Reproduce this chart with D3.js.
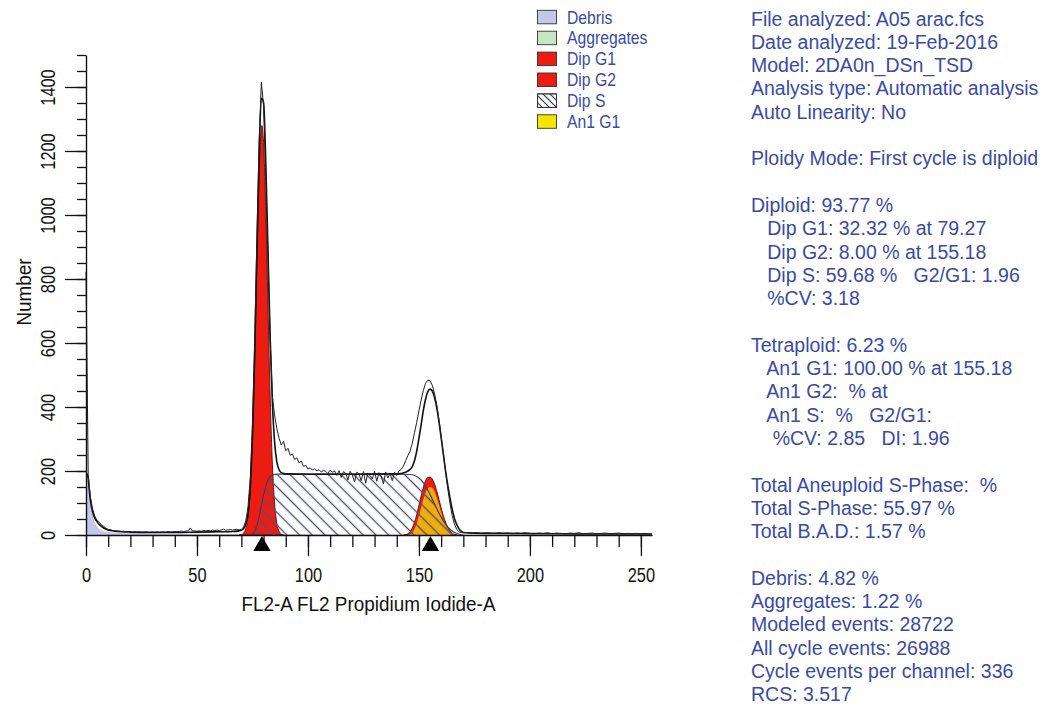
<!DOCTYPE html>
<html><head><meta charset="utf-8">
<script src="https://cdn.jsdelivr.net/npm/d3@7"></script>
<style>
body{margin:0;background:#fff;}
svg text{font-family:"Liberation Sans",Arial,Helvetica,sans-serif;}
</style></head><body>
<svg id="chart" width="1048" height="708"></svg>
<script>
// ---------- DATA ----------
// measured histogram: [channel, count]
const dataHist = [[0,822],[1,185],[2,118],[3,80],[4,58],[5,46],[6,40],[7,31],[8,27],[9,21],[10,17],[11,16],[12,14],[13,13],[14,12],[15,12],[16,11],[17,12],[18,10],[19,11],[20,10],[21,9],[22,10],[23,9],[24,10],[25,9],[26,9],[27,10],[28,9],[29,9],[30,10],[31,9],[32,10],[33,9],[34,10],[35,10],[36,9],[37,11],[38,10],[39,10],[40,11],[41,10],[42,11],[43,12],[44,11],[45,12],[46,13],[47,22],[48,12],[49,13],[50,12],[51,13],[52,12],[53,14],[54,13],[55,14],[56,13],[57,15],[58,14],[59,15],[60,14],[61,16],[62,18],[63,15],[64,16],[65,17],[66,15],[67,17],[68,18],[69,16],[70,17],[71,25],[72,44],[73,88],[74,178],[75,348],[76,612],[77,932],[78,1232],[79,1415],[80,1342],[81,1122],[82,862],[83,602],[84,432],[85,372],[86,332],[87,302],[88,281],[89,293],[90,263],[91,271],[92,249],[93,253],[94,236],[95,241],[96,226],[97,231],[98,214],[99,218],[100,206],[101,210],[102,203],[103,207],[104,200],[105,204],[106,197],[107,202],[108,199],[109,192],[110,203],[111,196],[112,200],[113,186],[114,201],[115,180],[116,198],[117,193],[118,172],[119,199],[120,187],[121,166],[122,196],[123,190],[124,170],[125,198],[126,162],[127,194],[128,185],[129,175],[130,199],[131,168],[132,195],[133,182],[134,160],[135,197],[136,178],[137,192],[138,170],[139,196],[140,186],[141,200],[142,205],[143,215],[144,232],[145,248],[146,262],[147,287],[148,320],[149,352],[150,388],[151,422],[152,452],[153,474],[154,484],[155,482],[156,468],[157,443],[158,408],[159,362],[160,308],[161,254],[162,198],[163,145],[164,98],[165,60],[166,34],[167,18],[168,10],[169,8],[170,7],[172,8],[174,6],[176,7],[178,5],[180,7],[182,6],[184,5],[186,7],[188,5],[190,6],[192,4],[194,6],[196,5],[198,7],[200,5],[202,4],[204,6],[206,5],[208,7],[210,4],[212,6],[214,5],[216,4],[218,6],[220,5],[222,7],[224,4],[226,5],[228,6],[230,4],[232,5],[234,6],[236,4],[238,5],[240,6],[242,4],[244,5],[246,4],[248,5],[250,4],[252,5],[254,3]];
// total model fit
const modelTotal = [[0.5,192],[1,178],[1.5,140],[2,108],[3,72],[4,52],[5,41],[6,33],[7,27],[8,22],[10,16],[13,12],[16,10],[20,9],[30,8],[40,8],[50,9],[60,10],[66,11],[69,13],[70,15],[71,20],[72,34],[73,68],[74,148],[75,312],[76,565],[77,885],[78,1185],[79,1365],[80,1352],[81,1163],[82,884],[83,611],[84,408],[85,288],[86,228],[87,204],[88,195],[90,191],[100,190],[120,190],[140,191],[144,196],[146,205],[147,214],[148,232],[149,262],[150,302],[151,345],[152,390],[153,425],[154,448],[155,456],[156,450],[157,430],[158,398],[159,355],[160,305],[161,252],[162,200],[163,155],[164,115],[165,80],[166,52],[167,33],[168,20],[169,12],[170,8],[175,6],[190,5],[210,4],[230,3],[255,3]];
// model components
const debrisFit = [[0,195],[0.5,190],[1,175],[1.5,138],[2,105],[2.5,80],[3,62],[3.5,48],[4,38],[5,26],[6,19],[7,15],[8,12],[10,9],[14,7],[20,6],[30,5],[40,4],[50,4],[60,3],[70,3],[80,2],[100,2],[140,1],[170,1],[200,0]];
const dipG1 = [[69,0],[70,1],[71,6],[72,20],[73,58],[74,143],[75,306],[76,551],[77,853],[78,1127],[79,1273],[79.27,1280],[80,1227],[81,1011],[82,712],[83,428],[84,220],[85,97],[86,36],[87,12],[88,3],[89,0]];
const dipG2 = [[143,0],[144,1],[145,4],[146,10],[147,22],[148,40],[149,64],[150,93],[151,123],[152,150],[153,170],[154,180],[155,181],[156,175],[157,160],[158,138],[159,112],[160,85],[161,60],[162,40],[163,24],[164,13],[165,6],[166,2],[167,0]];
const an1G1 = [[145,0],[146,2],[147,8],[148,19],[149,36],[150,60],[151,86],[152,112],[153,133],[154,146],[155,150],[156,147],[157,136],[158,117],[159,95],[160,71],[161,49],[162,31],[163,18],[164,9],[165,4],[166,1],[167,0]];
const dipS = [[74,0],[75,4],[76,12],[77,30],[78,58],[79,92],[80,125],[81,152],[82,172],[83,183],[84,188],[86,190],[100,190],[120,190],[140,190],[146,189],[148,186],[150,178],[152,163],[154,140],[156,112],[158,83],[160,56],[162,34],[164,18],[166,8],[168,3],[170,0]];
const peakChannels = [79.27, 155.18];
// axes
const xTicks = [0, 50, 100, 150, 200, 250];
const yTicks = [0, 200, 400, 600, 800, 1000, 1200, 1400];
const xTitle = "FL2-A FL2 Propidium Iodide-A";
const yTitle = "Number";
// legend
const legendNames = ["Debris", "Aggregates", "Dip G1", "Dip G2", "Dip S", "An1 G1"];
// statistics text
const infoLines = [
  "File analyzed: A05 arac.fcs",
  "Date analyzed: 19-Feb-2016",
  "Model: 2DA0n_DSn_TSD",
  "Analysis type: Automatic analysis",
  "Auto Linearity: No",
  "",
  "Ploidy Mode: First cycle is diploid",
  "",
  "Diploid: 93.77 %",
  "   Dip G1: 32.32 % at 79.27",
  "   Dip G2: 8.00 % at 155.18",
  "   Dip S: 59.68 %   G2/G1: 1.96",
  "   %CV: 3.18",
  "",
  "Tetraploid: 6.23 %",
  "   An1 G1: 100.00 % at 155.18",
  "   An1 G2:  % at",
  "   An1 S:  %   G2/G1:",
  "    %CV: 2.85   DI: 1.96",
  "",
  "Total Aneuploid S-Phase:  %",
  "Total S-Phase: 55.97 %",
  "Total B.A.D.: 1.57 %",
  "",
  "Debris: 4.82 %",
  "Aggregates: 1.22 %",
  "Modeled events: 28722",
  "All cycle events: 26988",
  "Cycle events per channel: 336",
  "RCS: 3.517"
];

// ---------- DRAWING ----------
const svg = d3.select("#chart");
const textBlue = "#3a4aa6";
const cRed = "#ec1c12", cYellow = "#f4e400", cDebris = "#c6c6ea", cAgg = "#c8e6c2";

const x = d3.scaleLinear().domain([0, 255]).range([86, 652]);
const y = d3.scaleLinear().domain([0, 1500]).range([535, 55]);

const defs = svg.append("defs");
defs.append("pattern").attr("id", "hatch").attr("patternUnits", "userSpaceOnUse")
  .attr("width", 9).attr("height", 9).attr("patternTransform", "rotate(-45)")
  .append("line").attr("x1", 4.5).attr("y1", 0).attr("x2", 4.5).attr("y2", 9)
  .attr("stroke", "#4b5577").attr("stroke-width", 1.4);
defs.append("pattern").attr("id", "hatchSmall").attr("patternUnits", "userSpaceOnUse")
  .attr("width", 5).attr("height", 5).attr("patternTransform", "rotate(-45)")
  .append("line").attr("x1", 2.5).attr("y1", 0).attr("x2", 2.5).attr("y2", 5)
  .attr("stroke", "#333a55").attr("stroke-width", 1.1);

const area = d3.area().x(d => x(d[0])).y0(y(0)).y1(d => y(d[1])).curve(d3.curveMonotoneX);
const topLine = d3.line().x(d => x(d[0])).y(d => y(d[1])).curve(d3.curveMonotoneX);
const rawLine = d3.line().x(d => x(d[0])).y(d => y(d[1]));

const plot = svg.append("g");
plot.append("path").datum(debrisFit).attr("d", area).attr("fill", cDebris);
plot.append("path").datum(dipG1).attr("d", area).attr("fill", cRed)
  .attr("stroke", "#400").attr("stroke-width", 0.8);
plot.append("path").datum(dipG2).attr("d", area).attr("fill", cRed)
  .attr("stroke", "#400").attr("stroke-width", 0.8);
plot.append("path").datum(an1G1).attr("d", area).attr("fill", cYellow).attr("fill-opacity", 0.72);
plot.append("path").datum(dipS).attr("d", area).attr("fill", "url(#hatch)");
plot.append("path").datum(dipS).attr("d", topLine).attr("fill", "none")
  .attr("stroke", "#3a3f5c").attr("stroke-width", 1.2);
plot.append("path").datum(modelTotal).attr("d", topLine).attr("fill", "none")
  .attr("stroke", "#111").attr("stroke-width", 1.6);
plot.append("path").datum(dataHist).attr("d", rawLine).attr("fill", "none")
  .attr("stroke", "#222").attr("stroke-width", 1);

// axes
const fontTick = 20.5, sqTick = 0.8;
const gx = svg.append("g").attr("transform", `translate(0,${y(0)})`);
gx.call(d3.axisBottom(x).tickValues(d3.range(0, 251, 10)).tickSize(12).tickSizeOuter(0).tickFormat(""));
gx.call(g => g.selectAll(".tick line").attr("stroke", "#111").attr("stroke-width", 1.3));
const gx2 = svg.append("g").attr("transform", `translate(0,${y(0)})`);
gx2.call(d3.axisBottom(x).tickValues(xTicks).tickSize(21).tickSizeOuter(0).tickFormat(d3.format("d")));
gx2.select(".domain").remove();
gx2.selectAll(".tick line").attr("stroke", "#111").attr("stroke-width", 1.3);
gx2.selectAll(".tick text").attr("y", 47).attr("dy", 0).attr("fill", "#111")
  .attr("font-size", fontTick).attr("transform", `scale(${sqTick},1)`);
gx.select(".domain").attr("stroke", "#111").attr("stroke-width", 1.4);

const gy = svg.append("g").attr("transform", `translate(${x(0)},0)`);
gy.call(d3.axisLeft(y).tickValues(d3.range(0, 1501, 50)).tickSize(9).tickSizeOuter(0).tickFormat(""));
gy.selectAll(".tick line").attr("stroke", "#111").attr("stroke-width", 1.3);
gy.select(".domain").attr("stroke", "#111").attr("stroke-width", 1.4);
const gy2 = svg.append("g").attr("transform", `translate(${x(0)},0)`);
gy2.call(d3.axisLeft(y).tickValues(yTicks).tickSize(21).tickSizeOuter(0).tickFormat(d3.format("d")));
gy2.select(".domain").remove();
gy2.selectAll(".tick line").attr("stroke", "#111").attr("stroke-width", 1.3);
gy2.selectAll(".tick text").attr("x", 0).attr("dy", 0).attr("text-anchor", "middle")
  .attr("fill", "#111").attr("font-size", fontTick)
  .attr("transform", `translate(-31.5,0) rotate(-90) scale(${sqTick},1)`);
svg.selectAll("g").attr("font-family", null);

// axis titles
svg.append("text").attr("transform", `translate(${(x(0) + x(250)) / 2 + 5},611) scale(0.9,1)`)
  .attr("text-anchor", "middle").attr("font-size", 21).attr("fill", "#111").text(xTitle);
svg.append("text").attr("transform", `translate(31,292) rotate(-90) scale(0.9,1)`)
  .attr("text-anchor", "middle").attr("font-size", 21).attr("fill", "#111").text(yTitle);

// peak markers
svg.append("g").selectAll("path").data(peakChannels).join("path")
  .attr("d", d3.symbol(d3.symbolTriangle, 130))
  .attr("transform", d => `translate(${x(d)},546)`).attr("fill", "#000");

// legend
const legFills = [cDebris, cAgg, cRed, cRed, "url(#hatchSmall)", cYellow];
const leg = svg.append("g");
legendNames.forEach((name, i) => {
  const top = 10.3 + 20.9 * i;
  leg.append("rect").attr("x", 537.5).attr("y", top).attr("width", 19).attr("height", 13.5)
    .attr("fill", i === 4 ? "#fff" : legFills[i]).attr("stroke", "#333").attr("stroke-width", 0.9);
  if (i === 4) leg.append("rect").attr("x", 537.5).attr("y", top).attr("width", 19).attr("height", 13.5)
    .attr("fill", legFills[i]).attr("stroke", "#333").attr("stroke-width", 0.9);
  leg.append("text").attr("transform", `translate(567,${top + 13.2}) scale(0.85,1)`)
    .attr("font-size", 18.5).attr("fill", textBlue).text(name);
});

// statistics block
svg.append("g").selectAll("text").data(infoLines).join("text")
  .attr("x", 751).attr("y", (d, i) => 25.5 + 23.3 * i)
  .attr("xml:space", "preserve").style("white-space", "pre")
  .attr("font-size", 19.5).attr("fill", textBlue).text(d => d);
</script>
</body></html>
